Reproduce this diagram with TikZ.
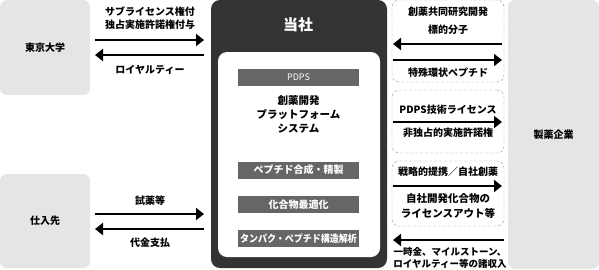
\documentclass[tikz,border=0pt]{standalone}
\usepackage{fontspec}
\setmainfont{Noto Sans CJK JP}
\usetikzlibrary{arrows.meta}

\definecolor{partygray}{gray}{0.9}
\definecolor{darkbox}{gray}{0.2}
\definecolor{bargray}{gray}{0.4}

\begin{document}
\begin{tikzpicture}[x=1pt, y=-1pt, >={Triangle[length=8pt,width=12pt]},
  font=\fontsize{10}{13}\selectfont\bfseries,
  party/.style={fill=partygray, rounded corners=7pt, inner sep=0pt},
  barbox/.style={fill=bargray, text=white, minimum width=121pt, minimum height=17pt, inner sep=0pt},
  dealbox/.style={draw=gray!80, densely dashed, rounded corners=7pt, minimum width=112pt, inner sep=0pt},
  flow/.style={->, line width=2.6pt},
  lbl/.style={align=center, inner sep=0pt}]

\useasboundingbox (0,0) rectangle (599,269);

% parties
\node[party, minimum width=90pt, minimum height=95pt] (todai) at (45,47.5) {東京大学};
\node[party, minimum width=90pt, minimum height=94pt] (supplier) at (45,221) {仕入先};
\node[party, minimum width=91pt, minimum height=269pt] (pharma) at (553.5,134.5) {製薬企業};

% company
\node[fill=darkbox, rounded corners=9pt, minimum width=176pt, minimum height=268pt, inner sep=0pt] (company) at (299,134) {};
\node[text=white, font=\fontsize{15}{17}\selectfont\bfseries] (companyname) at (298,25) {当社};
\node[fill=white, rounded corners=9pt, minimum width=162pt, minimum height=205pt, inner sep=0pt] (core) at (299,154.5) {};

\node[barbox, font=\fontsize{9}{11}\selectfont] (pdps) at (298.5,77) {PDPS};
\node[lbl, font=\fontsize{10.5}{14}\selectfont\bfseries] (platform) at (298.5,114) {創薬開発\\プラットフォーム\\システム};
\node[barbox] (synth) at (298.5,170) {ペプチド合成・精製};
\node[barbox] (optim) at (298.5,204.5) {化合物最適化};
\node[barbox] (struct) at (298.5,238.5) {\scalebox{0.9}[1]{タンパク・ペプチド構造解析}};

% deal boxes
\node[dealbox, minimum height=82pt] (joint) at (448,41) {};
\node[dealbox, minimum height=63pt] (license) at (448,121.5) {};
\node[dealbox, minimum height=65pt] (alliance) at (448,193.5) {};

% arrow ends
\coordinate (t1) at (95,40);  \coordinate (t2) at (204,40);
\coordinate (t3) at (204,55); \coordinate (t4) at (95,55);
\coordinate (s1) at (95,214); \coordinate (s2) at (204,214);
\coordinate (s3) at (204,229); \coordinate (s4) at (95,229);
\coordinate (j1) at (502,44); \coordinate (j2) at (393,44);
\coordinate (j3) at (393,60); \coordinate (j4) at (502,60);
\coordinate (l1) at (393,122); \coordinate (l2) at (502,122);
\coordinate (a1) at (393,186); \coordinate (a2) at (502,186);
\coordinate (r1) at (504,240); \coordinate (r2) at (393,240);

\draw[flow] (t1) -- (t2);
\draw[flow] (t3) -- (t4);
\draw[flow] (s1) -- (s2);
\draw[flow] (s3) -- (s4);
\draw[flow] (j1) -- (j2);
\draw[flow] (j3) -- (j4);
\draw[flow] (l1) -- (l2);
\draw[flow] (a1) -- (a2);
\draw[flow] (r1) -- (r2);

% labels
\node[lbl] (sublicense) at (150,18.5) {サブライセンス権付\\独占実施許諾権付与};
\node[lbl] (royalty) at (150,70) {ロイヤルティー};
\node[lbl] (reagent) at (150,201) {試薬等};
\node[lbl] (payment) at (150,243) {代金支払};

\node[lbl] (jointname) at (448,12) {創薬共同研究開発};
\node[lbl] (target) at (448,30) {標的分子};
\node[lbl] (peptide) at (448,73) {特殊環状ペプチド};
\node[lbl] (pdpslic) at (448,110) {PDPS技術ライセンス};
\node[lbl] (nonexcl) at (448,133) {非独占的実施許諾権};
\node[lbl] (strategy) at (448,172) {戦略的提携／自社創薬};
\node[lbl, font=\fontsize{10.5}{15}\selectfont\bfseries] (licout) at (448,205.5) {自社開発化合物の\\ライセンスアウト等};
\node[lbl, font=\fontsize{9.5}{12}\selectfont\bfseries] (income) at (450,258) {一時金、マイルストーン、\\ロイヤルティー等の諸収入};

\end{tikzpicture}
\end{document}
